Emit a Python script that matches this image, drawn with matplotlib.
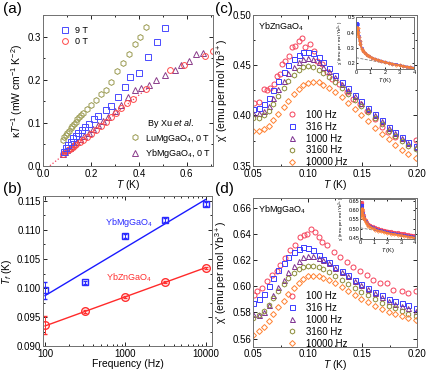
import numpy as np
import matplotlib.pyplot as plt
from matplotlib.ticker import MultipleLocator, FormatStrFormatter, NullFormatter

plt.rcParams['font.family'] = ['Liberation Sans', 'DejaVu Sans']
plt.rcParams['mathtext.fontset'] = 'custom'
plt.rcParams['mathtext.rm'] = 'Liberation Sans'
plt.rcParams['mathtext.it'] = 'Liberation Sans:italic'
plt.rcParams['mathtext.bf'] = 'Liberation Sans:bold'

# ---- (a) thermal conductivity ----
a_T_9T = [0.086, 0.094, 0.104, 0.114, 0.125, 0.136, 0.146, 0.160, 0.174, 0.192, 0.211,
          0.229, 0.261, 0.282, 0.3125, 0.340, 0.361, 0.40, 0.4375, 0.476, 0.51]
a_k_9T = [0.0326, 0.040, 0.048, 0.0558, 0.0636, 0.069, 0.075, 0.083, 0.089, 0.097, 0.1085,
          0.1155, 0.129, 0.139, 0.160, 0.182, 0.207, 0.216, 0.2535, 0.288, 0.319]
a_T_0T = [0.083, 0.09, 0.097, 0.104, 0.111, 0.118, 0.125, 0.132, 0.139, 0.153, 0.167, 0.183,
          0.201, 0.222, 0.243, 0.264, 0.285, 0.306, 0.326, 0.35, 0.375, 0.43, 0.53, 0.59,
          0.674, 0.708]
a_k_0T = [0.027, 0.031, 0.034, 0.037, 0.0395, 0.042, 0.044, 0.047, 0.050, 0.056, 0.060, 0.066,
          0.074, 0.083, 0.092, 0.102, 0.112, 0.122, 0.133, 0.145, 0.154, 0.178, 0.222, 0.234,
          0.255, 0.267]
a_T_Lu = [0.083, 0.0875, 0.094, 0.10, 0.107, 0.114, 0.121, 0.128, 0.135, 0.142, 0.149, 0.157,
          0.167, 0.183, 0.201, 0.222, 0.243, 0.264, 0.285, 0.308, 0.333, 0.358, 0.382, 0.403, 0.428]
a_k_Lu = [0.060, 0.066, 0.071, 0.077, 0.081, 0.087, 0.092, 0.097, 0.102, 0.108, 0.112, 0.118,
          0.123, 0.131, 0.141, 0.153, 0.166, 0.176, 0.195, 0.219, 0.238, 0.260, 0.283, 0.298, 0.323]
a_T_Yb = [0.083, 0.09, 0.10, 0.11, 0.12, 0.13, 0.14, 0.155, 0.17, 0.19, 0.21, 0.23, 0.25, 0.27,
          0.30, 0.325, 0.354, 0.382, 0.41, 0.44, 0.47, 0.51, 0.55, 0.576, 0.611, 0.639, 0.669]
a_k_Yb = [0.027, 0.031, 0.036, 0.041, 0.046, 0.051, 0.055, 0.062, 0.068, 0.076, 0.085, 0.094,
          0.103, 0.112, 0.128, 0.140, 0.160, 0.175, 0.180, 0.188, 0.198, 0.210, 0.222, 0.234,
          0.244, 0.259, 0.261]
a_fit_T = [0.028, 0.45]
a_fit_k = [0.0, 0.186]

# ---- (b) freezing temperature vs frequency ----
b_freq = [100, 316, 1000, 3160, 10000]
b_Tf_mg = [0.0996, 0.1010, 0.1089, 0.1117, 0.1144]
b_err_mg = [0.0015, 0.0003, 0.0003, 0.0003, 0.0003]
b_Tf_zn = [0.0937, 0.0960, 0.0985, 0.1011, 0.1035]
b_err_zn = [0.0015, 0.0003, 0.0002, 0.0002, 0.0002]
b_fit_freq = [100, 10000]
b_fit_mg = [0.0987, 0.1152]
b_fit_zn = [0.0935, 0.1035]

# ---- (c),(d) ac susceptibility ----
freq_labels = ['100 Hz', '316 Hz', '1000 Hz', '3160 Hz', '10000 Hz']
T_chi = [0.050, 0.055, 0.0595, 0.064, 0.0685, 0.073, 0.078, 0.082, 0.087, 0.0915, 0.096,
         0.1005, 0.105, 0.110, 0.114, 0.119, 0.125, 0.131, 0.137, 0.143, 0.149, 0.1555,
         0.1615, 0.1675, 0.174, 0.180, 0.186, 0.192, 0.199]

c_T_100 = [0.0503, 0.0549, 0.0595, 0.0625, 0.0656, 0.0686, 0.0717, 0.0747, 0.0762, 0.0793,
           0.0823, 0.0854, 0.0884, 0.0915, 0.0945, 0.0976, 0.1021, 0.1052, 0.1082, 0.1128,
           0.1174, 0.122, 0.1281, 0.1357, 0.1418, 0.1479, 0.154, 0.1616, 0.1677, 0.1738,
           0.1799, 0.1988]
c_chi_100 = [0.412, 0.413, 0.4263, 0.4253, 0.4273, 0.4313, 0.4396, 0.4412, 0.4512, 0.4539,
             0.4595, 0.4678, 0.4695, 0.4744, 0.4768, 0.4678, 0.4711, 0.4645, 0.4545, 0.4512,
             0.4429, 0.4363, 0.4313, 0.423, 0.4163, 0.4114, 0.4047, 0.3964, 0.3881, 0.3831,
             0.3788, 0.3755]
c_chi_316 = [0.4065, 0.4075, 0.4115, 0.4175, 0.4255, 0.4345, 0.443, 0.4505, 0.456, 0.4605,
             0.463, 0.4635, 0.462, 0.458, 0.453, 0.447, 0.4405, 0.4335, 0.4275, 0.4205, 0.414,
             0.4075, 0.4015, 0.395, 0.389, 0.384, 0.379, 0.374, 0.370]
c_chi_1000 = [0.402, 0.402, 0.4045, 0.4095, 0.4175, 0.4265, 0.4345, 0.442, 0.448, 0.453,
              0.456, 0.457, 0.456, 0.453, 0.4485, 0.444, 0.438, 0.4315, 0.4255, 0.419, 0.4125,
              0.4065, 0.4005, 0.394, 0.388, 0.383, 0.378, 0.373, 0.369]
c_chi_3160 = [0.3975, 0.3975, 0.400, 0.4045, 0.4115, 0.4195, 0.4275, 0.4345, 0.4405, 0.445,
              0.448, 0.449, 0.448, 0.445, 0.442, 0.438, 0.433, 0.4275, 0.4215, 0.4155, 0.4095,
              0.403, 0.3975, 0.3915, 0.385, 0.380, 0.375, 0.370, 0.3665]
c_chi_10000 = [0.385, 0.385, 0.3865, 0.390, 0.395, 0.4015, 0.408, 0.4145, 0.421, 0.426,
               0.430, 0.4325, 0.4335, 0.433, 0.4305, 0.427, 0.423, 0.418, 0.412, 0.4065,
               0.4005, 0.394, 0.388, 0.382, 0.3765, 0.371, 0.366, 0.3615, 0.3575]

d_T_100 = [0.0503, 0.0534, 0.0579, 0.0625, 0.0671, 0.0717, 0.0747, 0.0793, 0.0839, 0.0884,
           0.093, 0.0961, 0.0991, 0.1031, 0.1067, 0.1098, 0.1128, 0.1174, 0.1235, 0.1296,
           0.1357, 0.1418, 0.1479, 0.154, 0.1601, 0.1662, 0.1723, 0.1784, 0.186, 0.1921, 0.1988]
d_chi_100 = [0.5936, 0.5961, 0.5986, 0.6041, 0.6086, 0.6112, 0.6162, 0.6212, 0.6274, 0.6312,
             0.6375, 0.6387, 0.640, 0.6437, 0.6412, 0.6375, 0.6337, 0.6312, 0.6257, 0.6224,
             0.6187, 0.6149, 0.6112, 0.6086, 0.6049, 0.6024, 0.6024, 0.5974, 0.5961, 0.5949,
             0.5966]
d_chi_316 = [0.587, 0.590, 0.594, 0.600, 0.606, 0.6125, 0.6175, 0.6225, 0.626, 0.6285, 0.630,
             0.629, 0.6275, 0.624, 0.621, 0.6185, 0.615, 0.6115, 0.6085, 0.605, 0.6015, 0.5985,
             0.5955, 0.593, 0.5905, 0.589, 0.587, 0.5855, 0.5835]
d_chi_1000 = [0.5785, 0.578, 0.5805, 0.5855, 0.593, 0.5995, 0.605, 0.6105, 0.6155, 0.6195,
              0.622, 0.623, 0.623, 0.6215, 0.620, 0.6175, 0.614, 0.6105, 0.6075, 0.604, 0.601,
              0.598, 0.595, 0.592, 0.589, 0.5865, 0.585, 0.583, 0.581]
d_chi_3160 = [0.576, 0.578, 0.581, 0.5855, 0.591, 0.5965, 0.6015, 0.606, 0.610, 0.613, 0.615,
              0.6155, 0.6155, 0.615, 0.613, 0.611, 0.608, 0.605, 0.6015, 0.5985, 0.5955, 0.593,
              0.590, 0.5875, 0.585, 0.583, 0.581, 0.579, 0.5775]
d_chi_10000 = [0.5625, 0.5655, 0.569, 0.5735, 0.5785, 0.584, 0.589, 0.594, 0.5985, 0.6025,
               0.6055, 0.6075, 0.608, 0.608, 0.6065, 0.605, 0.6025, 0.5995, 0.5965, 0.5935,
               0.5905, 0.588, 0.585, 0.5825, 0.580, 0.5785, 0.577, 0.5755, 0.574]

# ---- insets (wide temperature range) ----
ins_T = [0.05, 0.07, 0.09, 0.10, 0.12, 0.15, 0.20, 0.25, 0.30, 0.40, 0.50, 0.60, 0.75, 0.90,
         1.1, 1.3, 1.5, 1.75, 2.0, 2.25, 2.5, 2.75, 3.0, 3.25, 3.5, 3.75, 4.0]
ins_c_316 = [0.407, 0.44, 0.46, 0.463, 0.455, 0.42, 0.375, 0.348, 0.327, 0.297, 0.282, 0.27,
             0.257, 0.247, 0.237, 0.229, 0.223, 0.216, 0.209, 0.203, 0.198, 0.193, 0.188,
             0.183, 0.179, 0.175, 0.171]
ins_c_10000 = [0.385, 0.41, 0.43, 0.433, 0.428, 0.405, 0.37, 0.345, 0.325, 0.295, 0.28, 0.268,
               0.255, 0.245, 0.235, 0.227, 0.221, 0.214, 0.207, 0.201, 0.196, 0.191, 0.186,
               0.181, 0.177, 0.173, 0.169]
ins_c_fit_T = [0.0, 4.0]
ins_c_fit = [0.237, 0.165]
ins_d_100 = [0.594, 0.62, 0.64, 0.642, 0.634, 0.62, 0.596, 0.575, 0.562, 0.548, 0.535, 0.528,
             0.52, 0.513, 0.508, 0.503, 0.497, 0.494, 0.49, 0.487, 0.482, 0.481, 0.477, 0.475,
             0.47, 0.468, 0.465]
ins_d_316 = [0.587, 0.61, 0.626, 0.63, 0.627, 0.617, 0.584, 0.565, 0.555, 0.54, 0.53, 0.522,
             0.513, 0.507, 0.501, 0.495, 0.491, 0.486, 0.482, 0.478, 0.475, 0.472, 0.469,
             0.466, 0.463, 0.46, 0.457]
ins_d_10000 = [0.5625, 0.58, 0.598, 0.604, 0.608, 0.606, 0.574, 0.56, 0.55, 0.535, 0.525,
               0.517, 0.508, 0.502, 0.496, 0.49, 0.486, 0.481, 0.477, 0.473, 0.47, 0.467,
               0.464, 0.461, 0.458, 0.455, 0.452]
ins_d_fit_T = [0.0, 4.0]
ins_d_fit = [0.505, 0.455]

RED = '#f5405a'
BLUE = '#3c3cff'
PURPLE = '#7d2f8f'
OLIVE = '#8c8c3a'
ORANGE = '#ff8030'
FREQ_STYLE = [('o', RED), ('s', BLUE), ('^', PURPLE), ('h', OLIVE), ('D', ORANGE)]


def style(ax, fs=7, major=3.0, minor=1.6, xpad=2.5):
    ax.tick_params(which='both', direction='in', top=True, right=True, labelsize=fs,
                   width=0.6, pad=1.5)
    ax.tick_params(axis='x', pad=xpad)
    ax.tick_params(which='major', length=major)
    ax.tick_params(which='minor', length=minor)
    for s in ax.spines.values():
        s.set_linewidth(0.7)
        s.set_color('#707070')


def panel_a(ax):
    ax.plot(a_fit_T, a_fit_k, ':', color=RED, lw=0.9)
    ax.plot(a_T_Lu, a_k_Lu, 'h', mfc='none', mec='#9a9a50', ms=4.2, mew=0.7)
    ax.plot(a_T_Yb, a_k_Yb, '^', mfc='none', mec='#8b3d8b', ms=4.0, mew=0.7)
    ax.plot(a_T_0T, a_k_0T, 'o', mfc='none', mec='#ff4a4a', ms=4.2, mew=0.7)
    ax.plot(a_T_9T, a_k_9T, 's', mfc='none', mec='#4a4aff', ms=3.8, mew=0.7)
    ax.set_xlim(0, 0.71)
    ax.set_ylim(0, 0.35)
    ax.xaxis.set_major_locator(MultipleLocator(0.2))
    ax.xaxis.set_minor_locator(MultipleLocator(0.1))
    ax.yaxis.set_major_locator(MultipleLocator(0.1))
    ax.yaxis.set_minor_locator(MultipleLocator(0.05))
    ax.xaxis.set_major_formatter(FormatStrFormatter('%.1f'))
    ax.yaxis.set_major_formatter(FormatStrFormatter('%.1f'))
    style(ax)
    ax.set_xlabel('$T$ (K)', fontsize=7.5, labelpad=-0.5)
    ax.set_ylabel('κ$T^{-1}$ (mW cm$^{-1}$ K$^{-2}$)', fontsize=7.5, labelpad=2)

    h9, = ax.plot([], [], 's', mfc='none', mec='#4a4aff', ms=3.8, mew=0.7)
    h0, = ax.plot([], [], 'o', mfc='none', mec='#ff4a4a', ms=4.2, mew=0.7)
    leg1 = ax.legend([h9, h0], ['9 T', '0 T'], loc='upper left', frameon=False,
                     fontsize=6.5, handlelength=1.0, handletextpad=0.6, labelspacing=0.25,
                     borderaxespad=0.4, bbox_to_anchor=(0.06, 0.975))
    ax.add_artist(leg1)
    hl, = ax.plot([], [], 'h', mfc='none', mec='#9a9a50', ms=4.2, mew=0.7)
    hy, = ax.plot([], [], '^', mfc='none', mec='#8b3d8b', ms=4.0, mew=0.7)
    ax.legend([hl, hy], ['LuMgGaO$_4$, 0 T', 'YbMgGaO$_4$, 0 T'], loc='lower right',
              frameon=False, fontsize=6.5, handlelength=1.0, handletextpad=0.6,
              labelspacing=0.3, borderaxespad=0.2, title='By Xu $\\it{et\\ al.}$',
              title_fontsize=6.5, bbox_to_anchor=(1.02, 0.0))


def panel_b(ax):
    ax.set_xscale('log')
    ax.plot(b_fit_freq, b_fit_mg, '-', color='#1a1aff', lw=1.0)
    ax.plot(b_fit_freq, b_fit_zn, '-', color='#ff2a2a', lw=1.0)
    ax.errorbar(b_freq, b_Tf_mg, yerr=b_err_mg, fmt='s', mfc='none', mec='#2a2aff',
                ecolor='#2a2aff', ms=5, mew=1.0, elinewidth=0.7, capsize=1.5, capthick=0.7)
    ax.errorbar(b_freq, b_Tf_zn, yerr=b_err_zn, fmt='o', mfc='none', mec='#ff3030',
                ecolor='#ff3030', ms=5.5, mew=1.0, elinewidth=0.7, capsize=1.5, capthick=0.7)
    ax.set_xlim(95, 12000)
    ax.set_ylim(0.090, 0.1158)
    ax.set_xticks([100, 1000, 10000])
    ax.set_xticklabels(['100', '1000', '10000'])
    ax.xaxis.set_minor_formatter(NullFormatter())
    ax.yaxis.set_major_locator(MultipleLocator(0.005))
    ax.yaxis.set_minor_locator(MultipleLocator(0.0025))
    ax.yaxis.set_major_formatter(FormatStrFormatter('%.3f'))
    style(ax, xpad=1.8)
    ax.set_xlabel('Frequency (Hz)', fontsize=7.5, labelpad=0)
    ax.set_ylabel('$T_f$ (K)', fontsize=7.5, labelpad=2)
    ax.text(1120, 0.1112, 'YbMgGaO$_4$', color='#2a2aff', fontsize=6.5, ha='center', va='center')
    ax.text(1120, 0.1017, 'YbZnGaO$_4$', color='#ff3030', fontsize=6.5, ha='center', va='center')


def chi_panel(ax, curves, ylim, yminor, name, xpad):
    for (T, chi), (m, c), lab in zip(curves, FREQ_STYLE, freq_labels):
        ms = 3.6 if m != 'D' else 3.0
        ax.plot(T, chi, m, mfc='none', mec=c, ms=ms, mew=0.7, label=lab)
    ax.set_xlim(0.05, 0.2)
    ax.set_ylim(*ylim)
    ax.xaxis.set_major_locator(MultipleLocator(0.05))
    ax.xaxis.set_minor_locator(MultipleLocator(0.025))
    ax.xaxis.set_major_formatter(FormatStrFormatter('%.2f'))
    ax.yaxis.set_major_formatter(FormatStrFormatter('%.2f'))
    if yminor:
        ax.yaxis.set_major_locator(MultipleLocator(0.05))
        ax.yaxis.set_minor_locator(MultipleLocator(0.025))
    else:
        ax.yaxis.set_major_locator(MultipleLocator(0.02))
    style(ax, xpad=xpad)
    ax.set_xlabel('$T$ (K)', fontsize=7.5, labelpad=-1)
    ax.set_ylabel("χ' (emu per mol Yb$^{3+}$)", fontsize=7.5, labelpad=2)
    ax.text(0.03, 0.92, name, transform=ax.transAxes, fontsize=6.5, va='center')
    ax.legend(loc='lower left', bbox_to_anchor=(0.17, -0.05), frameon=False, fontsize=7,
              handlelength=1.0, handletextpad=1.0, labelspacing=0.2, borderaxespad=0.2)


def inset(ax, curves, fit, ylim, yticks, fmt):
    ax.plot(fit[0], fit[1], '--', color='#808080', lw=0.6)
    for T, chi, m, c in curves:
        ax.plot(T, chi, '-', color=c, lw=1.4, alpha=0.9)
        ax.plot(T, chi, m, mfc='none', mec=c, ms=1.8, mew=0.5)
    ax.set_xlim(0, 4)
    ax.set_ylim(*ylim)
    ax.set_xticks([0, 1, 2, 3, 4])
    ax.set_yticks(yticks)
    ax.yaxis.set_major_formatter(FormatStrFormatter(fmt))
    style(ax, fs=4, major=1.5, minor=1.0)
    ax.tick_params(pad=0.8)
    ax.set_xlabel('$T$ (K)', fontsize=4, labelpad=0.3)
    ax.set_ylabel("χ' (emu per mol Yb$^{3+}$)", fontsize=3.2, labelpad=0.8)


def main():
    fig = plt.figure(figsize=(4.28, 3.72), dpi=100)
    ax_a = fig.add_axes([0.101, 0.5546, 0.397, 0.4051])
    ax_b = fig.add_axes([0.101, 0.069, 0.394, 0.404])
    ax_c = fig.add_axes([0.5918, 0.5546, 0.3825, 0.4051])
    ax_d = fig.add_axes([0.5918, 0.067, 0.3825, 0.4015])

    panel_a(ax_a)
    panel_b(ax_b)

    chi_panel(ax_c, [(c_T_100, c_chi_100), (T_chi, c_chi_316), (T_chi, c_chi_1000),
                     (T_chi, c_chi_3160), (T_chi, c_chi_10000)],
              (0.35, 0.50), True, 'YbZnGaO$_4$', 2.5)
    chi_panel(ax_d, [(d_T_100, d_chi_100), (T_chi, d_chi_316), (T_chi, d_chi_1000),
                     (T_chi, d_chi_3160), (T_chi, d_chi_10000)],
              (0.5535, 0.6675), False, 'YbMgGaO$_4$', 1.5)

    ins_c = fig.add_axes([0.8318, 0.8145, 0.1355, 0.1411])
    inset(ins_c, [(ins_T, ins_c_316, 's', BLUE), (ins_T, ins_c_10000, 'D', ORANGE)],
          (ins_c_fit_T, ins_c_fit), (0.163, 0.505), [0.2, 0.3, 0.4, 0.5], '%.1f')
    ins_d = fig.add_axes([0.8418, 0.3575, 0.1271, 0.1084])
    inset(ins_d, [(ins_T, ins_d_100, 'o', RED), (ins_T, ins_d_316, 's', BLUE),
                  (ins_T, ins_d_10000, 'D', ORANGE)],
          (ins_d_fit_T, ins_d_fit), (0.445, 0.662), [0.45, 0.50, 0.55, 0.60, 0.65], '%.2f')

    for lab, x, y in [('(a)', 0.008, 0.995), ('(b)', 0.008, 0.51),
                      ('(c)', 0.503, 0.995), ('(d)', 0.503, 0.51)]:
        fig.text(x, y, lab, fontsize=11, va='top', ha='left')

    fig.savefig('out.png', dpi=100)


if __name__ == '__main__':
    main()
